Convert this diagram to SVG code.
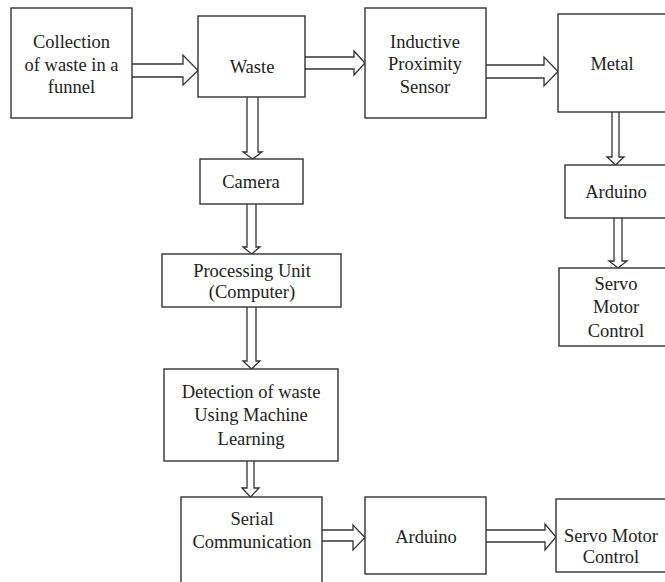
<svg xmlns="http://www.w3.org/2000/svg" width="665" height="582" viewBox="0 0 665 582">
<style>
.box{fill:#fff;stroke:#333;stroke-width:1.4}
.arr{fill:#fff;stroke:#333;stroke-width:1.3;stroke-linejoin:miter}
text{font-family:"Liberation Serif","Times New Roman",serif;font-size:18.5px;fill:#222;text-anchor:middle}
</style>
<rect width="665" height="582" fill="#fff"/>
<g id="connectors">
<path class="arr" d="M132,64 L183,64 L183,55 L198,70.5 L183,85 L183,77 L132,77"/>
<path class="arr" d="M305,57 L354,57 L354,51 L365,63 L354,75 L354,69 L305,69"/>
<path class="arr" d="M486,65 L544,65 L544,57 L558,71.5 L544,86 L544,78 L486,78"/>
<path class="arr" d="M247,97 L247,152 L243,152 L252.5,159 L262,152 L258,152 L258,97"/>
<path class="arr" d="M247,204 L247,247 L243,247 L251.5,254 L260,247 L256,247 L256,204"/>
<path class="arr" d="M247,307 L247,361 L243,361 L251.5,369 L260,361 L256,361 L256,307"/>
<path class="arr" d="M247,461 L247,488 L242,488 L250.5,497 L259,488 L254,488 L254,461"/>
<path class="arr" d="M322,530 L353,530 L353,525 L365,537.5 L353,550 L353,541 L322,541"/>
<path class="arr" d="M486,530 L545,530 L545,524 L556,537 L545,550 L545,542 L486,542"/>
<path class="arr" d="M612,112 L612,157 L607,157 L615.5,165 L624,157 L619,157 L619,112"/>
<path class="arr" d="M614,218 L614,261 L609,261 L618,268 L627,261 L622,261 L622,218"/>
</g>
<g id="collection"><rect class="box" x="11" y="8" width="121" height="110"/>
<text x="71.5" y="48">Collection</text><text x="71.5" y="71">of waste in a</text><text x="71.5" y="93">funnel</text></g>
<g id="waste"><rect class="box" x="198" y="16" width="107" height="81"/><text x="252" y="73">Waste</text></g>
<g id="inductive"><rect class="box" x="365" y="8" width="121" height="110"/>
<text x="425" y="48">Inductive</text><text x="425" y="70">Proximity</text><text x="425" y="93">Sensor</text></g>
<g id="metal"><rect class="box" x="558" y="14" width="112" height="98"/><text x="612" y="70">Metal</text></g>
<g id="arduino1"><rect class="box" x="565" y="165" width="105" height="53"/><text x="616" y="198">Arduino</text></g>
<g id="servo1"><rect class="box" x="559" y="268" width="111" height="78"/>
<text x="616" y="290">Servo</text><text x="616" y="313">Motor</text><text x="616" y="337">Control</text></g>
<g id="camera"><rect class="box" x="200" y="159" width="103" height="45"/><text x="251" y="188">Camera</text></g>
<g id="processing"><rect class="box" x="162" y="254" width="179" height="53"/>
<text x="252" y="277">Processing Unit</text><text x="252" y="298">(Computer)</text></g>
<g id="detection"><rect class="box" x="164" y="369" width="174" height="92"/>
<text x="251" y="398">Detection of waste</text><text x="251" y="421">Using Machine</text><text x="251" y="445">Learning</text></g>
<g id="serial"><rect class="box" x="181" y="497" width="141" height="95"/>
<text x="252" y="525">Serial</text><text x="252" y="548">Communication</text></g>
<g id="arduino2"><rect class="box" x="365" y="497" width="121" height="77"/><text x="426" y="543">Arduino</text></g>
<g id="servo2"><rect class="box" x="556" y="499" width="114" height="73"/>
<text x="611" y="542">Servo Motor</text><text x="611" y="563">Control</text></g>
</svg>
